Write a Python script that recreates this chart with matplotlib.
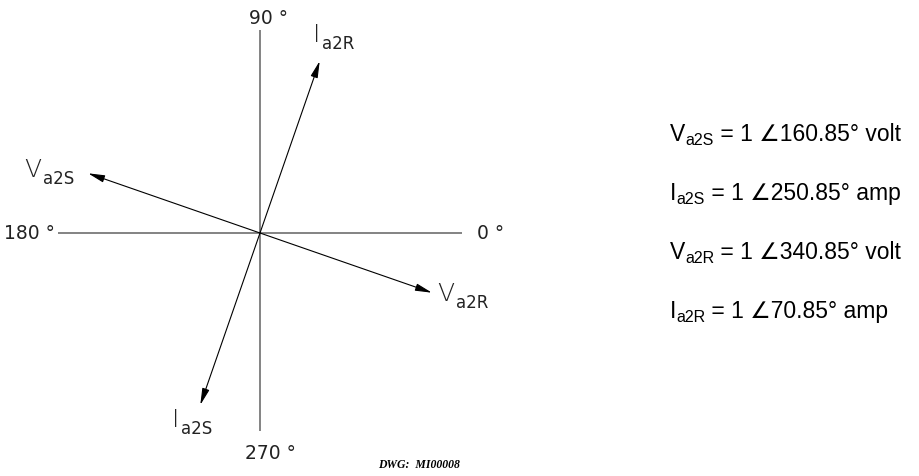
import numpy as np
import matplotlib
matplotlib.use('Agg')
import matplotlib.pyplot as plt

# ---------------- data ----------------
phasor_letters = ['V', 'I', 'V', 'I']
phasor_subs = ['a2S', 'a2S', 'a2R', 'a2R']
magnitudes = [1, 1, 1, 1]
angles_deg = [160.85, 250.85, 340.85, 70.85]
units = ['volt', 'amp', 'volt', 'amp']
axis_angle_labels = ['0°', '90°', '180°', '270°']
drawing_id = 'DWG:  MI00008'

# ---------------- style / layout ----------------
W, H, DPI = 920, 476, 100
center = (260, 233)
scale = 182                       # pixels per unit magnitude
axis_extent = dict(left=202, right=202, up=203, down=198)
cad_font = ['DejaVu Sans']
txt_font = ['Liberation Sans', 'DejaVu Sans']

# label anchors (letter left, letter baseline) for the phasor labels
label_pos = [(24, 177), (172, 427), (437, 301), (313, 42)]
# axis angle label anchors
angle_label_pos = [(477, 239, 'left'), (249, 24, 'left'), (55, 239, 'right'), (245, 459, 'left')]
# text block
block_x = 670
block_baselines = [141, 200, 259, 318]

fig = plt.figure(figsize=(W / DPI, H / DPI), dpi=DPI)
ax = fig.add_axes([0, 0, 1, 1])
ax.set_xlim(0, W)
ax.set_ylim(H, 0)
ax.axis('off')

cx, cy = center
axis_color = '#6e6e6e'
ax.plot([cx - axis_extent['left'], cx + axis_extent['right']], [cy, cy],
        color=axis_color, lw=1.2, solid_capstyle='butt', zorder=1)
ax.plot([cx, cx], [cy - axis_extent['up'], cy + axis_extent['down']],
        color=axis_color, lw=1.2, solid_capstyle='butt', zorder=1)

# phasor arrows
for mag, ang in zip(magnitudes, angles_deg):
    a = np.deg2rad(ang)
    tx = cx + scale * mag * np.cos(a)
    ty = cy - scale * mag * np.sin(a)
    ax.annotate('', xy=(tx, ty), xytext=(cx, cy),
                arrowprops=dict(arrowstyle='-|>,head_length=1.0,head_width=0.22',
                                lw=0.8, color='black', shrinkA=0, shrinkB=0),
                zorder=3)

# phasor labels (CAD style)
cad_color = '#222222'
for (lx, ly), let, sub in zip(label_pos, phasor_letters, phasor_subs):
    t = ax.text(lx, ly, let, fontsize=18, family=cad_font, color=cad_color,
                va='baseline', ha='left', fontweight='light')
    ax.annotate(sub, xy=(1, ly + 7), xycoords=(t, 'data'), xytext=(1, 0),
                textcoords='offset points', fontsize=12, family=cad_font,
                color=cad_color, va='baseline', ha='left')

# angle labels
for (x, y, ha), lab in zip(angle_label_pos, axis_angle_labels):
    ax.text(x, y, lab.replace('°', ' °'), fontsize=13.5, family=cad_font, color=cad_color,
            va='baseline', ha=ha)

# text block
for yb, let, sub, mag, ang, unit in zip(block_baselines, phasor_letters,
                                        phasor_subs, magnitudes, angles_deg, units):
    t = ax.text(block_x, yb, let, fontsize=16.5, family=txt_font, color='black',
                va='baseline', ha='left')
    s = ax.annotate(sub, xy=(1, yb + 4), xycoords=(t, 'data'),
                    fontsize=11.5, family=txt_font, color='black',
                    va='baseline', ha='left')
    ax.annotate(f' = {mag} \u2220{ang:.2f}° {unit}', xy=(1, yb), xycoords=(s, 'data'),
                fontsize=16.5, family=txt_font, color='black',
                va='baseline', ha='left')

# drawing id
ax.text(378, 468, drawing_id, fontsize=8.5, family=['Liberation Serif', 'DejaVu Serif'],
        style='italic', fontweight='bold', color='black', va='baseline', ha='left')

fig.savefig('out.png', dpi=DPI, facecolor='white')
